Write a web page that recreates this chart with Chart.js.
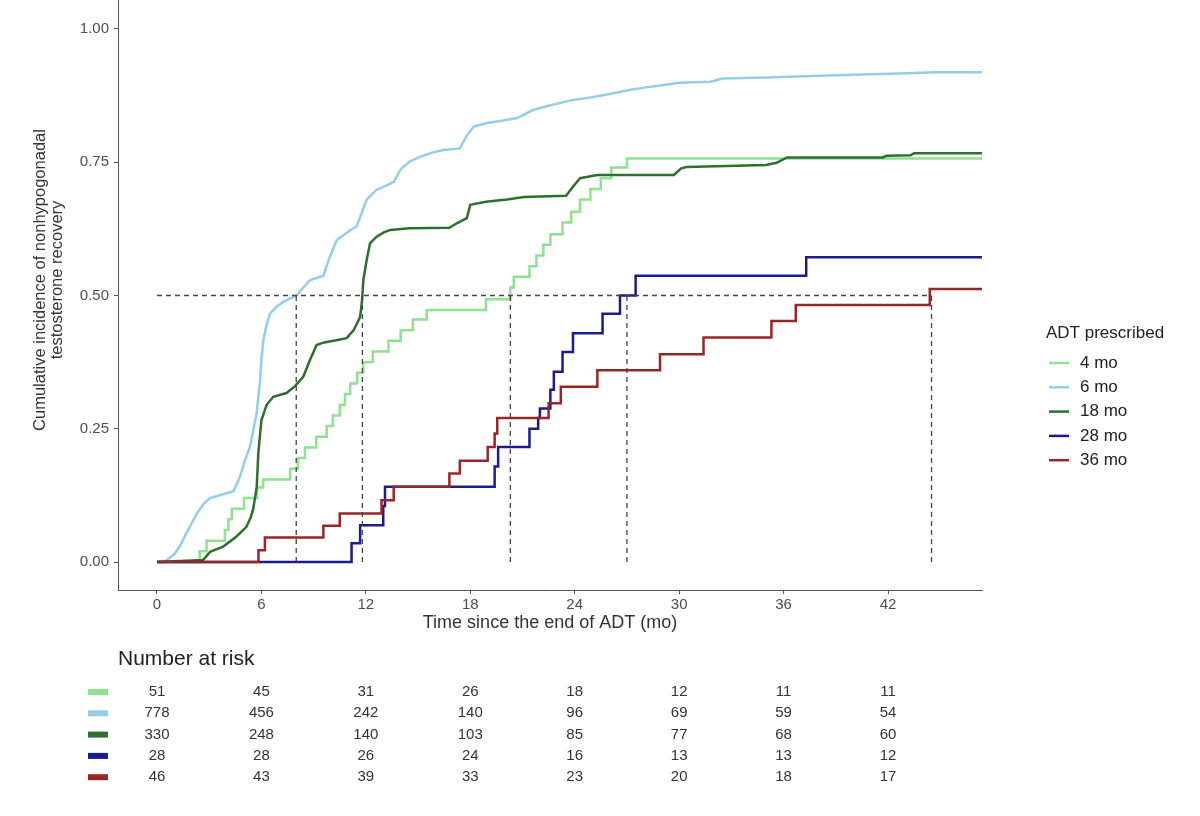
<!DOCTYPE html>
<html>
<head>
<meta charset="utf-8">
<title>Cumulative incidence of nonhypogonadal testosterone recovery</title>
<script src="https://cdn.jsdelivr.net/npm/chart.js@4.4.1/dist/chart.umd.min.js"></script>
<style>
  html, body { margin: 0; padding: 0; background: #fff; }
  #wrap { width: 1200px; height: 816px; }
</style>
</head>
<body>
<div id="wrap"><canvas id="chart" width="1200" height="816"></canvas></div>
<script>
// Cumulative incidence by ADT duration

const groupLabels = ['4 mo', '6 mo', '18 mo', '28 mo', '36 mo'];
const groupColors = ['#8fe28f', '#94cde8', '#2e6e2e', '#1b1b8f', '#982626'];

// 4 mo (step function)
const t4 = [0, 2.45, 2.85, 3.9, 4.1, 4.3, 5.0, 5.75, 6.1, 7.65, 8.1, 8.5, 9.15, 9.75, 10.1, 10.5, 10.8, 11.1, 11.5, 11.85, 12.4, 13.3, 14.0, 14.7, 15.5, 18.9, 20.3, 20.5, 21.4, 21.8, 22.2, 22.6, 23.3, 23.8, 24.3, 24.9, 25.5, 26.1, 27.0, 47.4];
const y4 = [0, 0.02, 0.04, 0.06, 0.08, 0.10, 0.12, 0.14, 0.155, 0.175, 0.195, 0.215, 0.235, 0.255, 0.275, 0.295, 0.315, 0.335, 0.355, 0.375, 0.395, 0.415, 0.435, 0.455, 0.473, 0.493, 0.515, 0.535, 0.555, 0.575, 0.595, 0.615, 0.637, 0.657, 0.68, 0.70, 0.72, 0.74, 0.757, 0.757];

// 6 mo (many small events)
const t6 = [0, 0.55, 1.0, 1.32, 1.7, 2.27, 2.7, 3.05, 3.8, 4.4, 4.77, 5.05, 5.34, 5.55, 5.73, 5.92, 6.0, 6.11, 6.3, 6.49, 6.9, 7.26, 7.7, 8.03, 8.4, 8.8, 9.56, 9.9, 10.33, 11.0, 11.48, 12.05, 12.6, 13.1, 13.6, 14.0, 14.5, 15.1, 15.8, 16.46, 17.4, 17.8, 18.2, 18.9, 19.8, 20.7, 21.6, 22.6, 23.9, 25.0, 26.0, 27.2, 28.0, 28.9, 30.0, 31.8, 32.5, 35.0, 37.7, 40.0, 43.1, 44.8, 47.4];
const y6 = [0, 0.003, 0.015, 0.03, 0.055, 0.09, 0.11, 0.12, 0.127, 0.133, 0.16, 0.19, 0.216, 0.25, 0.28, 0.34, 0.38, 0.416, 0.445, 0.466, 0.48, 0.488, 0.495, 0.5, 0.515, 0.529, 0.537, 0.57, 0.604, 0.62, 0.63, 0.68, 0.698, 0.705, 0.713, 0.737, 0.751, 0.76, 0.768, 0.773, 0.776, 0.80, 0.817, 0.823, 0.828, 0.833, 0.848, 0.857, 0.867, 0.872, 0.878, 0.886, 0.89, 0.894, 0.899, 0.901, 0.907, 0.909, 0.912, 0.914, 0.917, 0.919, 0.919];

// 18 mo
const t18 = [0, 2.66, 3.05, 3.8, 4.57, 5.14, 5.4, 5.53, 5.73, 5.82, 6.0, 6.3, 6.68, 7.44, 7.93, 8.41, 8.79, 9.17, 9.6, 10.3, 10.9, 11.3, 11.5, 11.67, 11.78, 11.86, 12.05, 12.24, 12.6, 13.0, 13.4, 14.5, 16.8, 17.2, 17.8, 18.0, 18.9, 20.1, 21.1, 23.5, 23.9, 24.3, 25.3, 29.7, 30.1, 30.4, 35.0, 35.6, 36.2, 41.7, 41.9, 43.3, 43.5, 47.4];
const y18 = [0, 0.004, 0.019, 0.029, 0.048, 0.066, 0.085, 0.10, 0.141, 0.204, 0.266, 0.295, 0.31, 0.317, 0.33, 0.348, 0.379, 0.407, 0.412, 0.416, 0.42, 0.435, 0.448, 0.46, 0.49, 0.53, 0.567, 0.598, 0.61, 0.618, 0.623, 0.626, 0.627, 0.635, 0.645, 0.67, 0.676, 0.68, 0.685, 0.687, 0.704, 0.72, 0.726, 0.726, 0.738, 0.741, 0.745, 0.749, 0.759, 0.759, 0.762, 0.763, 0.767, 0.767];

// 28 mo (step function)
const t28 = [0, 11.18, 11.67, 13.0, 13.1, 19.4, 19.6, 21.4, 21.9, 22.0, 22.6, 22.8, 23.3, 23.9, 25.6, 26.6, 27.5, 37.3, 47.4];
const y28 = [0, 0.035, 0.069, 0.105, 0.141, 0.179, 0.216, 0.25, 0.27, 0.288, 0.323, 0.357, 0.394, 0.429, 0.466, 0.5, 0.537, 0.572, 0.572];

// 36 mo (step function)
const t36 = [0, 5.83, 6.2, 9.56, 10.5, 12.9, 13.6, 16.8, 17.4, 19.0, 19.4, 19.55, 22.5, 23.2, 25.3, 28.9, 31.4, 35.3, 36.7, 44.4, 47.4];
const y36 = [0, 0.022, 0.046, 0.068, 0.091, 0.116, 0.141, 0.166, 0.19, 0.216, 0.241, 0.27, 0.298, 0.329, 0.36, 0.39, 0.421, 0.452, 0.482, 0.512, 0.512];

// median lines
const medianLevel = 0.5;
const medianTimes = [8.0, 11.8, 20.3, 27.0, 44.5];

// number at risk table
const riskTimes = [0, 6, 12, 18, 24, 30, 36, 42];
const risk4 = [51, 45, 31, 26, 18, 12, 11, 11];
const risk6 = [778, 456, 242, 140, 96, 69, 59, 54];
const risk18 = [330, 248, 140, 103, 85, 77, 68, 60];
const risk28 = [28, 28, 26, 24, 16, 13, 13, 12];
const risk36 = [46, 43, 39, 33, 23, 20, 18, 17];

const xTicks = [0, 6, 12, 18, 24, 30, 36, 42];
const yTicks = [0, 0.25, 0.5, 0.75, 1];

const yTitleLines = ['Cumulative incidence of nonhypogonadal', 'testosterone recovery'];
const xTitle = 'Time since the end of ADT (mo)';
const legendTitle = 'ADT prescribed';
const riskTitle = 'Number at risk';

const FONT = '"Liberation Sans", Arial, Helvetica, sans-serif';

function toPoints(t, y) {
    return t.map((v, i) => ({ x: v, y: y[i] }));
}

const curves = [
    { t: t4, y: y4, stepped: true },
    { t: t6, y: y6, stepped: false },
    { t: t18, y: y18, stepped: false },
    { t: t28, y: y28, stepped: true },
    { t: t36, y: y36, stepped: true }
];
const riskRows = [risk4, risk6, risk18, risk28, risk36];

const datasets = curves.map((c, i) => ({
    label: groupLabels[i],
    data: toPoints(c.t, c.y),
    borderColor: groupColors[i],
    borderWidth: 2.5,
    pointRadius: 0,
    fill: false,
    stepped: c.stepped,
    tension: 0,
    order: groupLabels.length - i
}));

// dashed median guides
const lastMedian = Math.max(...medianTimes);
const dashStyle = { borderColor: '#444', borderWidth: 1.3, borderDash: [5, 4], pointRadius: 0, fill: false, order: -1 };
datasets.push(Object.assign({ label: 'median-h', data: [{ x: 0, y: medianLevel }, { x: lastMedian, y: medianLevel }] }, dashStyle));
medianTimes.forEach((m, i) => {
    datasets.push(Object.assign({ label: 'median-v' + i, data: [{ x: m, y: 0 }, { x: m, y: medianLevel }] }, dashStyle));
});

// Draws y title, legend and the number-at-risk table
const extrasPlugin = {
    id: 'extras',
    afterDraw(chart) {
        const ctx = chart.ctx;
        const xs = chart.scales.x;

        // y axis title (two lines)
        ctx.save();
        ctx.translate(40, 280);
        ctx.rotate(-Math.PI / 2);
        ctx.font = '16.5px ' + FONT;
        ctx.fillStyle = '#333';
        ctx.textAlign = 'center';
        ctx.textBaseline = 'middle';
        yTitleLines.forEach((line, i) => ctx.fillText(line, 0, i * 17.5));
        ctx.restore();

        // legend
        ctx.save();
        ctx.fillStyle = '#222';
        ctx.font = '17px ' + FONT;
        ctx.textAlign = 'left';
        ctx.textBaseline = 'middle';
        ctx.fillText(legendTitle, 1046, 333);
        groupLabels.forEach((lab, i) => {
            const ly = 363 + i * 24.3;
            ctx.strokeStyle = groupColors[i];
            ctx.lineWidth = 2.5;
            ctx.beginPath();
            ctx.moveTo(1049, ly);
            ctx.lineTo(1069, ly);
            ctx.stroke();
            ctx.fillStyle = '#222';
            ctx.fillText(lab, 1080, ly);
        });
        ctx.restore();

        // number at risk
        ctx.save();
        ctx.fillStyle = '#222';
        ctx.font = '21px ' + FONT;
        ctx.textAlign = 'left';
        ctx.textBaseline = 'middle';
        ctx.fillText(riskTitle, 118, 659);
        ctx.font = '15px ' + FONT;
        ctx.textAlign = 'center';
        riskRows.forEach((row, i) => {
            const ry = 692 + i * 21.3;
            ctx.fillStyle = groupColors[i];
            ctx.fillRect(88, ry - 3, 20, 6);
            ctx.fillStyle = '#333';
            row.forEach((n, j) => {
                ctx.fillText(String(n), xs.getPixelForValue(riskTimes[j]), ry);
            });
        });
        ctx.restore();
    }
};

const tickFont = { family: FONT, size: 15 };

new Chart(document.getElementById('chart'), {
    type: 'line',
    data: { datasets: datasets },
    options: {
        responsive: false,
        animation: false,
        devicePixelRatio: 1,
        layout: { padding: { left: 0, top: 0, right: 218, bottom: 181 } },
        plugins: {
            legend: { display: false },
            tooltip: { enabled: false }
        },
        scales: {
            x: {
                type: 'linear',
                min: -2.24,
                max: 47.4,
                afterBuildTicks: (s) => { s.ticks = xTicks.map(v => ({ value: v })); },
                afterFit: (s) => { s.height = 45; s.paddingLeft = 0; s.paddingRight = 0; },
                grid: { drawOnChartArea: false, drawTicks: true, tickLength: 4, color: '#555' },
                border: { display: true, color: '#555', width: 1 },
                ticks: { font: tickFont, color: '#4d4d4d', padding: 2, maxRotation: 0, autoSkip: false },
                title: { display: true, text: xTitle, color: '#333', font: { family: FONT, size: 18 }, padding: { top: 0, bottom: 1 } }
            },
            y: {
                type: 'linear',
                min: -0.0525,
                max: 1.0544,
                afterBuildTicks: (s) => { s.ticks = yTicks.map(v => ({ value: v })); },
                afterFit: (s) => { s.width = 118; s.paddingTop = 0; s.paddingBottom = 0; },
                grid: { drawOnChartArea: false, drawTicks: true, tickLength: 4, color: '#555' },
                border: { display: true, color: '#555', width: 1 },
                ticks: { font: tickFont, color: '#4d4d4d', padding: 5, callback: (v) => Number(v).toFixed(2) }
            }
        }
    },
    plugins: [extrasPlugin]
});
</script>
</body>
</html>
